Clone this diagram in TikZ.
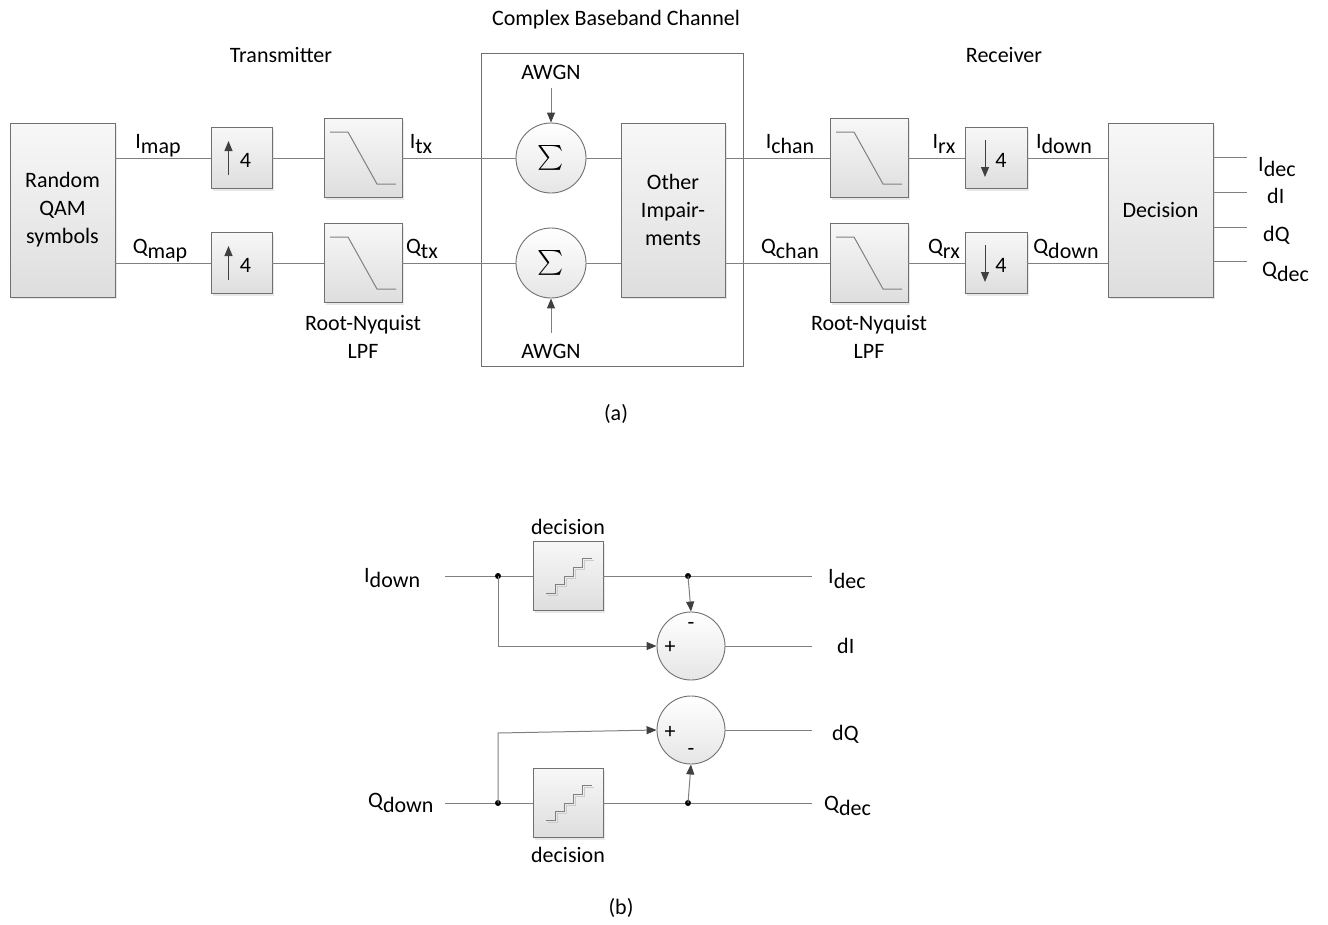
\documentclass[tikz,border=0pt]{standalone}
\usepackage{exscale}
\usepackage{fontspec}
\setmainfont{Carlito}
\usetikzlibrary{arrows.meta,shadows,calc}
\definecolor{lg}{RGB}{128,128,128}
\definecolor{bg}{RGB}{112,112,112}
\definecolor{ac}{RGB}{64,64,64}
\newcommand\sbx[1]{\raisebox{-0.27em}{#1}}
\begin{document}
\begin{tikzpicture}[x=1pt,y=-1pt,font=\fontsize{22}{28}\selectfont,
  blk/.style={draw=bg,line width=0.9pt,top color=white!97!black,bottom color=white!87!black,inner sep=0,
    drop shadow={opacity=0.18,shadow xshift=2pt,shadow yshift=-2pt}},
  sumc/.style={circle,draw=bg,line width=0.9pt,top color=white,bottom color=white!90!black,inner sep=0,minimum size=70},
  difc/.style={circle,draw=bg,line width=0.9pt,top color=white,bottom color=white!90!black,inner sep=0,minimum size=68},
  ln/.style={draw=lg,line width=1pt},
  icon/.style={draw=lg,line width=1pt},
  arr/.style={draw=lg,line width=1pt,-{Triangle[length=10pt,width=8pt,color=ac]}},
  lbl/.style={inner sep=0,anchor=base},
  txt/.style={inner sep=0,align=center},
  dot/.style={circle,fill=black,inner sep=0,minimum size=6}]
\useasboundingbox (0,0) rectangle (1328,924);

% ---------- titles ----------
\node[txt] (tt1) at (616,20) {Complex Baseband Channel};
\node[txt] (tt2) at (281,55) {Transmitter};
\node[txt] (tt3) at (1004,55) {Receiver};

% ---------- channel frame ----------
\node[draw=bg,line width=0.9pt,minimum width=262,minimum height=313,inner sep=0] (chan) at (612,209.5) {};

% ---------- blocks ----------
\node[blk,minimum width=105,minimum height=174,txt] (rand) at (62.5,210) {Random\\QAM\\symbols};
\node[blk,minimum width=61,minimum height=61] (upI) at (241.5,158) {};
\node[blk,minimum width=61,minimum height=61] (upQ) at (241.5,263) {};
\node[blk,minimum width=78,minimum height=79] (fI) at (363,158) {};
\node[blk,minimum width=78,minimum height=79] (fQ) at (363,263) {};
\node[sumc] (sI) at (551,158) {\fontsize{24}{24}\selectfont$\sum$};
\node[sumc] (sQ) at (551,263) {\fontsize{24}{24}\selectfont$\sum$};
\node[blk,minimum width=104,minimum height=174,txt] (oi) at (673,210) {Other\\Impair-\\ments};
\node[blk,minimum width=78,minimum height=79] (rfI) at (869,158) {};
\node[blk,minimum width=78,minimum height=79] (rfQ) at (869,263) {};
\node[blk,minimum width=62,minimum height=61] (dnI) at (996,158) {};
\node[blk,minimum width=62,minimum height=61] (dnQ) at (996,263) {};
\node[blk,minimum width=105,minimum height=174] (dec) at (1160.5,210) {Decision};

% icons: up/down sampling
\foreach \n in {upI,upQ}{
  \draw[draw=ac,line width=1pt,-{Triangle[length=10pt,width=8pt,color=ac]}] ($(\n)+(-13,17)$) -- ($(\n)+(-13,-17)$);
  \node[txt] at ($(\n)+(4,2)$) {4};
}
\foreach \n in {dnI,dnQ}{
  \draw[draw=ac,line width=1pt,-{Triangle[length=10pt,width=8pt,color=ac]}] ($(\n)+(-11,-18)$) -- ($(\n)+(-11,19)$);
  \node[txt] at ($(\n)+(5,2)$) {4};
}
% icons: lowpass
\foreach \n in {fI,fQ,rfI,rfQ}{
  \draw[icon] ($(\n)+(-33,-26)$) -- ($(\n)+(-15,-26)$) -- ($(\n)+(14,26)$) -- ($(\n)+(33,26)$);
}

\node[txt] (lpf1) at (363,337) {Root-Nyquist\\LPF};
\node[txt] (lpf2) at (869,337) {Root-Nyquist\\LPF};

% AWGN
\node[txt] (awT) at (551,72) {AWGN};
\node[txt] (awB) at (551,351) {AWGN};
\coordinate (awTs) at (551,88);
\coordinate (awBs) at (551,333);
\draw[arr] (awTs) -- (sI.north);
\draw[arr] (awBs) -- (sQ.south);

% connectors I
\draw[ln] (rand.east |- upI.west) -- (upI.west);
\draw[ln] (upI.east) -- (fI.west);
\draw[ln] (fI.east) -- (sI.west);
\draw[ln] (sI.east) -- (oi.west |- sI.east);
\draw[ln] (oi.east |- rfI.west) -- (rfI.west);
\draw[ln] (rfI.east) -- (dnI.west);
\draw[ln] (dnI.east) -- (dec.west |- dnI.east);
% connectors Q
\draw[ln] (rand.east |- upQ.west) -- (upQ.west);
\draw[ln] (upQ.east) -- (fQ.west);
\draw[ln] (fQ.east) -- (sQ.west);
\draw[ln] (sQ.east) -- (oi.west |- sQ.east);
\draw[ln] (oi.east |- rfQ.west) -- (rfQ.west);
\draw[ln] (rfQ.east) -- (dnQ.west);
\draw[ln] (dnQ.east) -- (dec.west |- dnQ.east);

% signal labels
\node[lbl] (l1) at (158,148) {I\sbx{map}};
\node[lbl] (l2) at (160,253) {Q\sbx{map}};
\node[lbl] (l3) at (421,148) {I\sbx{tx}};
\node[lbl] (l4) at (422,253) {Q\sbx{tx}};
\node[lbl] (l5) at (790,148) {I\sbx{chan}};
\node[lbl] (l6) at (790,253) {Q\sbx{chan}};
\node[lbl] (l7) at (944,148) {I\sbx{rx}};
\node[lbl] (l8) at (944,253) {Q\sbx{rx}};
\node[lbl] (l9) at (1064,148) {I\sbx{down}};
\node[lbl] (l10) at (1066,253) {Q\sbx{down}};

% decision outputs
\coordinate (o1) at (1247,157);
\coordinate (o2) at (1247,192);
\coordinate (o3) at (1247,227);
\coordinate (o4) at (1247,261);
\foreach \o in {o1,o2,o3,o4} \draw[ln] (dec.east |- \o) -- (\o);
\node[lbl,anchor=base west] (m1) at (1258,171) {I\sbx{dec}};
\node[lbl,anchor=base west] (m2) at (1267,203) {dI};
\node[lbl,anchor=base west] (m3) at (1263,241) {dQ};
\node[lbl,anchor=base west] (m4) at (1262,276) {Q\sbx{dec}};

\node[txt] (capa) at (616,414) {(a)};

% ================= (b) =================
\coordinate (in1) at (445,576);
\node[dot] (j1) at (498,576) {};
\node[blk,minimum width=70,minimum height=69] (d1) at (568,576) {};
\node[dot] (j2) at (688,576) {};
\coordinate (e1) at (812,576);
\node[difc] (c1) at (691,646) {};
\coordinate (e2) at (812,646);

\coordinate (in2) at (445,803);
\node[dot] (j3) at (498,803) {};
\node[blk,minimum width=70,minimum height=69] (d2) at (568,803) {};
\node[dot] (j4) at (688,803) {};
\coordinate (e4) at (812,803);
\node[difc] (c2) at (691,730) {};
\coordinate (e3) at (812,730);
\coordinate (b2) at (498,733);

% staircase icons
\foreach \n in {d1,d2}{
  \draw[draw=white!80!black,line width=1pt] ($(\n)+(-20,19)$) -- ++(9,0) -- ++(0,-9) -- ++(9,0) -- ++(0,-8) -- ++(9,0) -- ++(0,-9) -- ++(9,0) -- ++(0,-9) -- ++(10,0);
  \draw[icon] ($(\n)+(-22,17)$) -- ++(9,0) -- ++(0,-9) -- ++(9,0) -- ++(0,-8) -- ++(9,0) -- ++(0,-9) -- ++(9,0) -- ++(0,-9) -- ++(10,0);
}

\draw[ln] (in1) -- (j1) -- (d1.west);
\draw[ln] (d1.east) -- (j2) -- (e1);
\draw[arr] (j1.center) -- (j1.center |- c1.west) -- (c1.west);
\draw[arr] (j2.center) -- (c1.north);
\draw[ln] (c1.east) -- (e2);

\draw[ln] (in2) -- (j3) -- (d2.west);
\draw[ln] (d2.east) -- (j4) -- (e4);
\draw[arr] (j3.center) -- (b2) -- (c2.west);
\draw[arr] (j4.center) -- (c2.south);
\draw[ln] (c2.east) -- (e3);

\node[txt] at ($(c1)+(-21,1)$) {+};
\node[txt] at ($(c1)+(0,-20)$) {-};
\node[txt] at ($(c2)+(-21,2)$) {+};
\node[txt] at ($(c2)+(0,22)$) {-};

\node[txt] (dl1) at (568,527) {decision};
\node[txt] (dl2) at (568,855) {decision};

\node[lbl,anchor=base west] (n1) at (364,582) {I\sbx{down}};
\node[lbl,anchor=base west] (n2) at (368,807) {Q\sbx{down}};
\node[lbl,anchor=base west] (n3) at (828,583) {I\sbx{dec}};
\node[lbl,anchor=base west] (n4) at (837,653) {dI};
\node[lbl,anchor=base west] (n5) at (832,740) {dQ};
\node[lbl,anchor=base west] (n6) at (824,810) {Q\sbx{dec}};

\node[txt] (capb) at (621,908) {(b)};
\end{tikzpicture}
\end{document}
